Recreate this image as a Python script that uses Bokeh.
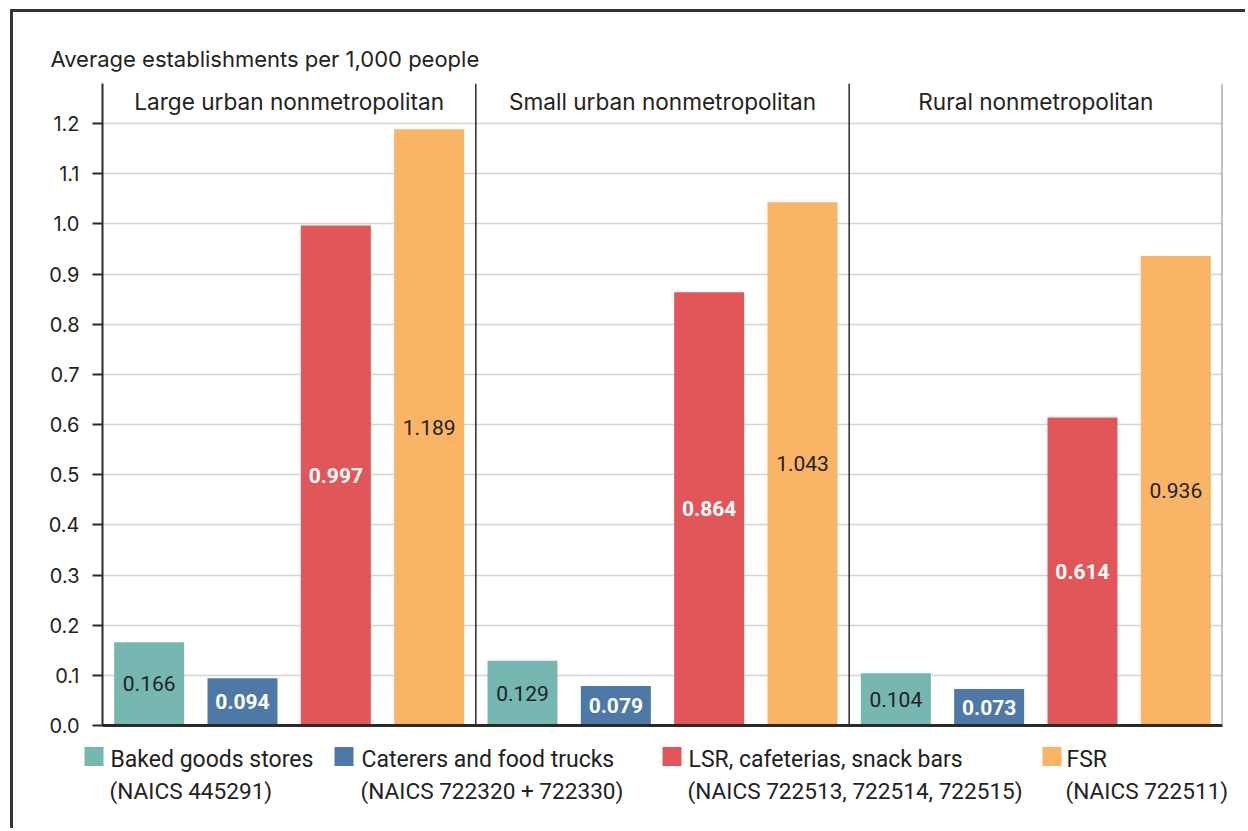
from bokeh.plotting import figure
from bokeh.layouts import column
from bokeh.models import Range1d, FixedTicker, Span, ColumnDataSource, NumeralTickFormatter
from bokeh.core.properties import value
from bokeh.embed import file_html
from bokeh.resources import INLINE

groups = ["Large urban nonmetropolitan", "Small urban nonmetropolitan", "Rural nonmetropolitan"]
series = ["Baked goods stores", "Caterers and food trucks", "LSR, cafeterias, snack bars", "FSR"]
series_codes = ["(NAICS 445291)", "(NAICS 722320 + 722330)", "(NAICS 722513, 722514, 722515)", "(NAICS 722511)"]
baked = [0.166, 0.129, 0.104]
caterers = [0.094, 0.079, 0.073]
lsr = [0.997, 0.864, 0.614]
fsr = [1.189, 1.043, 0.936]
y_ticks = [0.0, 0.1, 0.2, 0.3, 0.4, 0.5, 0.6, 0.7, 0.8, 0.9, 1.0, 1.1, 1.2]
y_title = "Average establishments per 1,000 people"

colors = ["#76b7b2", "#4e79a7", "#e15759", "#f9b466"]
label_colors = ["#222222", "#ffffff", "#ffffff", "#222222"]
label_styles = ["normal", "bold", "bold", "normal"]
all_series = [baked, caterers, lsr, fsr]

# ---------------- main chart ----------------
p = figure(width=1235, height=733, output_backend="svg", toolbar_location=None,
           x_range=Range1d(0, 12), y_range=Range1d(0, 1.28),
           min_border_left=89, min_border_right=26, min_border_top=71, min_border_bottom=20)
p.frame_align = False
p.styles = {"border-left": "3px solid #333333", "border-top": "3px solid #333333",
            "margin-left": "10px", "margin-top": "9px"}
p.outline_line_color = None
p.background_fill_color = "white"
p.border_fill_color = "white"

p.title.text = y_title
p.title.text_font = "Inter"
p.title.text_font_size = "22px"
p.title.text_font_style = "normal"
p.title.text_color = "#222222"
p.title.align = "left"
p.title.offset = -52
p.title.standoff = 24

p.xgrid.grid_line_color = None
p.ygrid.ticker = FixedTicker(ticks=y_ticks)
p.ygrid.grid_line_color = "#d4d4d4"
p.ygrid.grid_line_width = 1.5

p.yaxis.ticker = FixedTicker(ticks=y_ticks)
p.yaxis.formatter = NumeralTickFormatter(format="0.0")
p.yaxis.axis_line_color = "#2a2a2a"
p.yaxis.axis_line_width = 2
p.yaxis.major_tick_line_color = "#2a2a2a"
p.yaxis.major_tick_line_width = 2
p.yaxis.major_tick_out = 10
p.yaxis.major_tick_in = 0
p.yaxis.minor_tick_line_color = None
p.yaxis.major_label_text_font = "Inter"
p.yaxis.major_label_text_font_size = "20px"
p.yaxis.major_label_text_color = "#222222"
p.yaxis.major_label_standoff = 13

p.xaxis.ticker = FixedTicker(ticks=[])
p.xaxis.major_tick_line_color = None
p.xaxis.minor_tick_line_color = None
p.xaxis.axis_line_color = "#2a2a2a"
p.xaxis.axis_line_width = 3

for s, vals in enumerate(all_series):
    xs = [g * 4 + s + 0.5 for g in range(len(groups))]
    src = ColumnDataSource(dict(x=xs, top=vals, ly=[v / 2 for v in vals],
                                lab=[f"{v:.3f}" for v in vals]))
    p.vbar(x="x", top="top", width=0.75, fill_color=colors[s], line_color=None, source=src)
    p.text(x="x", y="ly", text="lab", text_color=label_colors[s], text_font_style=label_styles[s],
           text_align="center", text_baseline="middle", text_font=value("Roboto"),
           text_font_size="21px", source=src)

for d in [4, 8]:
    p.add_layout(Span(location=d, dimension="height", line_color="#2a2a2a", line_width=1.5))
p.add_layout(Span(location=12, dimension="height", line_color="#8a8a8a", line_width=2))

p.text(x=[2, 6, 10], y=[1.245] * 3, text=groups, text_align="center", text_baseline="middle",
       text_font=value("Inter"), text_font_size="22.6px", text_color="#222222")

# ---------------- legend strip (pixel-like coordinates) ----------------
LW, LH = 1235, 86
leg = figure(width=LW, height=LH, output_backend="svg", toolbar_location=None,
             x_range=Range1d(0, LW), y_range=Range1d(LH, 0),
             min_border_left=0, min_border_right=0, min_border_top=0, min_border_bottom=0)
leg.frame_align = False
leg.styles = {"border-left": "3px solid #333333", "margin-left": "10px"}
leg.axis.visible = False
leg.grid.visible = False
leg.outline_line_color = None
leg.background_fill_color = "white"
leg.border_fill_color = "white"

sq_left = [71, 321, 649, 1029]
txt_left = [97, 348, 675, 1053]
leg.block(x=sq_left, y=[23.5] * 4, width=19, height=19, fill_color=colors, line_color=None)
leg.text(x=txt_left, y=[16.5] * 4, text=series, text_baseline="middle", text_align="left",
         text_font=value("Roboto"), text_font_size="23px", text_color="#222222")
leg.text(x=[t - 1 for t in txt_left], y=[48.5] * 4, text=series_codes, text_baseline="middle",
         text_align="left", text_font=value("Roboto"), text_font_size="22.6px", text_color="#222222")

layout = column(p, leg, spacing=0)
open("out.html", "w").write(file_html(layout, INLINE))
